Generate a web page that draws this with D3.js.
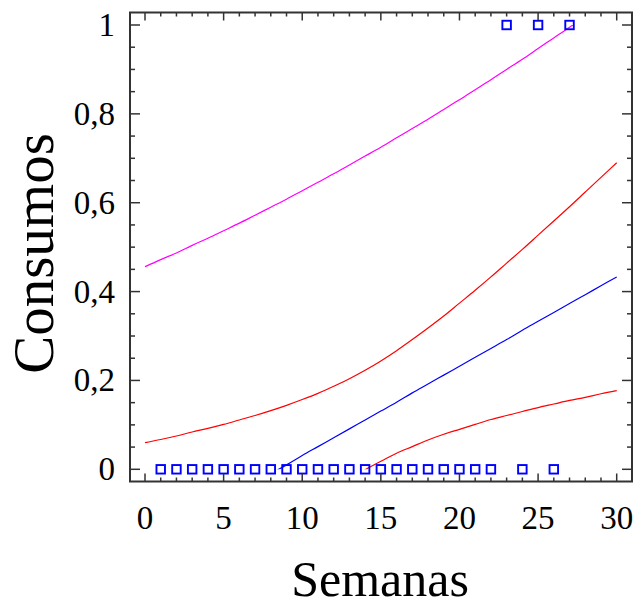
<!DOCTYPE html>
<html><head><meta charset="utf-8">
<script src="https://cdn.jsdelivr.net/npm/d3@7"></script>
<style>html,body{margin:0;padding:0;background:#fff}svg{display:block}</style>
</head><body>
<script>
// ---- data ----
const weeks = [0,1,2,3,4,5,6,7,8,9,10,11,12,13,14,15,16,17,18,19,20,21,22,23,24,25,26,27,28,29,30];
const fitted  = [-0.171,-0.151,-0.131,-0.111,-0.090,-0.070,-0.050,-0.030,-0.010,0.010,0.031,0.051,0.071,0.091,0.111,0.131,0.151,0.172,0.192,0.212,0.232,0.252,0.272,0.292,0.313,0.333,0.353,0.373,0.393,0.413,0.433];
const upperCI = [0.060,0.067,0.075,0.084,0.092,0.101,0.111,0.121,0.132,0.144,0.157,0.171,0.187,0.204,0.223,0.244,0.267,0.292,0.318,0.345,0.374,0.403,0.433,0.464,0.495,0.527,0.559,0.591,0.624,0.657,0.690];
const lowerCI = [-0.402,-0.369,-0.337,-0.305,-0.273,-0.242,-0.211,-0.181,-0.151,-0.123,-0.096,-0.070,-0.045,-0.022,-0.001,0.018,0.036,0.051,0.066,0.079,0.090,0.101,0.112,0.121,0.130,0.139,0.147,0.155,0.162,0.170,0.177];
const upperPI = [0.456,0.472,0.487,0.504,0.520,0.537,0.554,0.572,0.590,0.608,0.627,0.646,0.665,0.685,0.705,0.725,0.746,0.767,0.788,0.810,0.832,0.854,0.877,0.900,0.923,0.947,0.971,0.995,1.020,1.045,1.070];
const obsWeek = [1,2,3,4,5,6,7,8,9,10,11,12,13,14,15,16,17,18,19,20,21,22,23,24,25,26,27];
const obsConsumo = [0,0,0,0,0,0,0,0,0,0,0,0,0,0,0,0,0,0,0,0,0,0,1,0,1,0,1];
const xTicks = [0,5,10,15,20,25,30];
const yTicks = [0,0.2,0.4,0.6,0.8,1];
const yTickLabels = ["0","0,2","0,4","0,6","0,8","1"];

// ---- layout ----
const W = 639, H = 610;
const frame = {left:130, right:632, top:12.5, bottom:481.5};
const x = d3.scaleLinear().domain([0,30]).range([145,616.7]);
const y = d3.scaleLinear().domain([0,1]).range([469.3,25]);
const font = "'Liberation Serif','Times New Roman',serif";

const svg = d3.select("body").append("svg").attr("width",W).attr("height",H);

svg.append("defs").append("clipPath").attr("id","clip")
  .append("rect").attr("x",frame.left).attr("width",frame.right-frame.left)
  .attr("y",y(1)).attr("height",y(0)-y(1));

// curves
const lineGen = arr => d3.line().x((d,i)=>x(weeks[i])).y(d=>y(d)).curve(d3.curveMonotoneX)(arr);
const curves = svg.append("g").attr("clip-path","url(#clip)");
curves.append("path").attr("d",lineGen(upperPI)).attr("fill","none").attr("stroke","#ff00ff").attr("stroke-width",1.2);
curves.append("path").attr("d",lineGen(upperCI)).attr("fill","none").attr("stroke","#ff0000").attr("stroke-width",1.2);
curves.append("path").attr("d",lineGen(lowerCI)).attr("fill","none").attr("stroke","#ff0000").attr("stroke-width",1.2);
curves.append("path").attr("d",lineGen(fitted)).attr("fill","none").attr("stroke","#0000ff").attr("stroke-width",1.2);

// points
const sq = 8.5;
svg.append("g").selectAll("rect").data(obsWeek).join("rect")
  .attr("x",(d)=>x(d)-sq/2).attr("y",(d,i)=>y(obsConsumo[i])-sq/2)
  .attr("width",sq).attr("height",sq)
  .attr("fill","none").attr("stroke","#0000ff").attr("stroke-width",1.9);

// ticks
const tk = svg.append("g").attr("stroke","#333").attr("stroke-width",1.5);
const xMinor = d3.range(0,31,1), yMinor = d3.range(0,1.0001,0.05);
xMinor.forEach(v=>{
  const L = (v%5===0)?8:4;
  tk.append("line").attr("x1",x(v)).attr("x2",x(v)).attr("y1",frame.bottom).attr("y2",frame.bottom-L);
  tk.append("line").attr("x1",x(v)).attr("x2",x(v)).attr("y1",frame.top).attr("y2",frame.top+L);
});
yMinor.forEach(v=>{
  const major = Math.abs(v*5-Math.round(v*5))<1e-6;
  const L = major?10:5;
  tk.append("line").attr("y1",y(v)).attr("y2",y(v)).attr("x1",frame.left).attr("x2",frame.left+L);
  tk.append("line").attr("y1",y(v)).attr("y2",y(v)).attr("x1",frame.right).attr("x2",frame.right-L);
});

// frame
svg.append("rect").attr("x",frame.left).attr("y",frame.top)
  .attr("width",frame.right-frame.left).attr("height",frame.bottom-frame.top)
  .attr("fill","none").attr("stroke","#333").attr("stroke-width",2);

// tick labels
svg.append("g").selectAll("text").data(xTicks).join("text")
  .attr("x",d=>x(d)).attr("y",529).attr("text-anchor","middle")
  .attr("font-family",font).attr("font-size",33).attr("fill","#000").text(d=>d);
svg.append("g").selectAll("text").data(yTicks).join("text")
  .attr("x",115).attr("y",d=>y(d)+11).attr("text-anchor","end")
  .attr("font-family",font).attr("font-size",33).attr("fill","#000").text((d,i)=>yTickLabels[i]);

// axis titles
svg.append("text").attr("x",380).attr("y",596).attr("text-anchor","middle")
  .attr("font-family",font).attr("font-size",50).attr("fill","#000").text("Semanas");
svg.append("text").attr("transform","translate(53,253.5) rotate(-90)").attr("text-anchor","middle")
  .attr("font-family",font).attr("font-size",57).attr("fill","#000").text("Consumos");
</script>
</body></html>
